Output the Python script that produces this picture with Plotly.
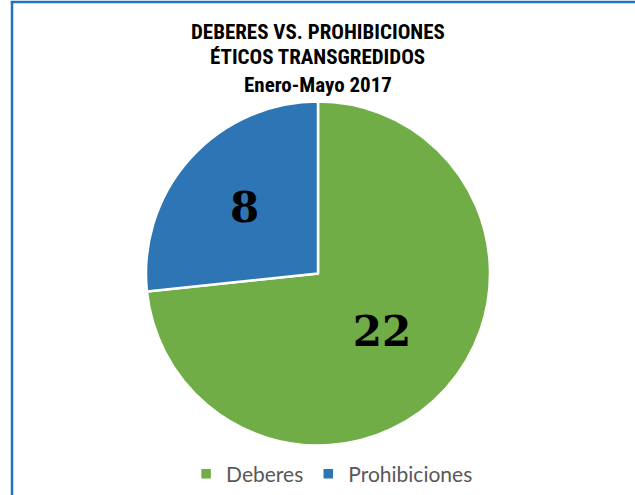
import plotly.graph_objects as go

categories = ["Deberes", "Prohibiciones"]
values = [22, 8]
colors = ["#70AD47", "#2E75B6"]
title_lines = ["DEBERES VS. PROHIBICIONES", "ÉTICOS TRANSGREDIDOS", "Enero-Mayo 2017"]

W, H = 635, 495
fig = go.Figure(go.Pie(
    labels=categories, values=values, sort=False, direction="clockwise", rotation=0,
    marker=dict(colors=colors, line=dict(color="white", width=2.5)),
    textinfo="value", textposition="inside", insidetextorientation="horizontal",
    textfont=dict(family="DejaVu Serif", size=42, color="black", weight="bold"),
    domain=dict(x=[146 / W, 490 / W], y=[1 - 446 / H, 1 - 101 / H]),
    hoverinfo="label+value",
))

title_y = [32, 57.5, 85]
for line, yy in zip(title_lines, title_y):
    fig.add_annotation(text=line, x=0.5, y=1 - yy / H, xref="paper", yref="paper",
                       xanchor="center", yanchor="middle", showarrow=False,
                       font=dict(family="Roboto Condensed, Liberation Sans Narrow, Noto Sans Condensed, DejaVu Sans Condensed",
                                 size=21, color="black", weight="bold"))

fig.add_shape(type="line", xref="paper", yref="paper", x0=12 / W, x1=12 / W, y0=0, y1=1 - 1 / H,
              line=dict(color="#1F73C2", width=2.5))
fig.add_shape(type="line", xref="paper", yref="paper", x0=10.8 / W, x1=1, y0=1 - 2 / H, y1=1 - 2 / H,
              line=dict(color="#1F73C2", width=2.5))

fig.update_layout(
    width=W, height=H, margin=dict(l=0, r=0, t=0, b=0),
    paper_bgcolor="white", plot_bgcolor="white",
    showlegend=True,
    legend=dict(orientation="h", x=0.523, y=1 - 474 / H, xanchor="center", yanchor="middle",
                font=dict(family="Lato, Open Sans", size=21, color="#595959"),
                itemwidth=30, tracegroupgap=0),
)
fig.write_html("out.html", config={"displayModeBar": False},
               post_script="document.body.style.margin='0px';")
